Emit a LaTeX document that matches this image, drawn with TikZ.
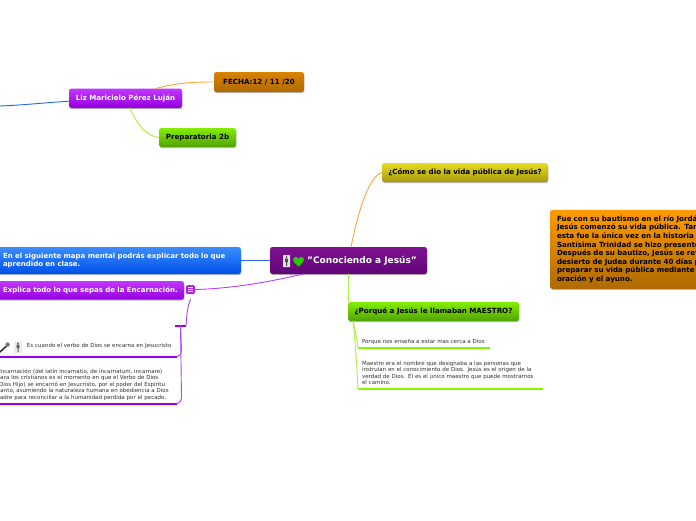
\documentclass[tikz,border=0pt]{standalone}
\usepackage{fontspec}
\setmainfont{DejaVu Sans}
\usetikzlibrary{shadows}
\definecolor{cPurpleT}{HTML}{C238FF}\definecolor{cPurpleB}{HTML}{9400DD}
\definecolor{cOrangeT}{HTML}{FF9A00}\definecolor{cOrangeB}{HTML}{AE6A00}
\definecolor{cGreenT}{HTML}{84EE00}\definecolor{cGreenB}{HTML}{50A200}
\definecolor{cYellowT}{HTML}{E6DC20}\definecolor{cYellowB}{HTML}{A89A10}
\definecolor{cBlueT}{HTML}{3C8CFF}\definecolor{cBlueB}{HTML}{0050E6}
\definecolor{cCentT}{HTML}{7E1190}\definecolor{cCentB}{HTML}{620578}
\definecolor{lBlue}{HTML}{2566EE}\definecolor{lOrange}{HTML}{FFA53A}
\definecolor{lGreen}{HTML}{A6F040}\definecolor{lPurple}{HTML}{B340FF}
\definecolor{uPurple}{HTML}{9A00E0}\definecolor{uGreen}{HTML}{88F500}
\definecolor{tDark}{HTML}{303030}
\tikzset{
  x=1pt,y=-1pt,
  topic/.style={anchor=north west,rounded corners=2.5pt,inner sep=0pt,outer sep=0pt,align=center,
    font=\fontsize{7.1}{8.6}\selectfont\bfseries,
    drop shadow={shadow xshift=0.4pt,shadow yshift=-1.1pt,opacity=0.28,fill=black}},
  darktext/.style={text=black},
  whitetext/.style={text=white},
  note/.style={anchor=north west,inner sep=0pt,outer sep=0pt,align=left,text=tDark,
    font=\fontsize{5.5}{6.5}\selectfont},
  conn/.style={line width=0.9pt,line cap=round},
  under/.style={line width=1.7pt},
}
\begin{document}
\begin{tikzpicture}
\useasboundingbox (0,0) rectangle (696,520);
\clip (0,0) rectangle (696,520);
\fill[white] (0,0) rectangle (696,520);

% free ends
\coordinate (offleft) at (0,106);

% top-level nodes
\node[topic,whitetext,top color=cPurpleT,bottom color=cPurpleB,minimum width=113pt,minimum height=19.5pt] (liz) at (69,88.5) {Liz Maricielo Pérez Luján};
\node[topic,darktext,top color=cOrangeT!85!black,bottom color=cOrangeB,minimum width=90pt,minimum height=20pt] (fecha) at (214,72) {FECHA:12 / 11 /20};
\node[topic,darktext,top color=cGreenT,bottom color=cGreenB,minimum width=77pt,minimum height=19pt] (prepa) at (159,128) {Preparatoria 2b};
\node[topic,whitetext,top color=cCentT,bottom color=cCentB,minimum width=157pt,minimum height=27pt,font=\fontsize{9}{11}\selectfont\bfseries] (cent) at (270,247) {\hspace{27pt}"Conociendo a Jesús"};
\node[topic,darktext,top color=cYellowT,bottom color=cYellowB,minimum width=166pt,minimum height=19pt] (como) at (382,163) {¿Cómo se dio la vida pública de Jesús?};
\node[topic,darktext,top color=cGreenT,bottom color=cGreenB,minimum width=171pt,minimum height=19pt] (porque) at (348,302) {¿Porqué a Jesús le llamaban MAESTRO?};
\node[topic,darktext,top color=cOrangeT,bottom color=cOrangeB,minimum width=170pt,minimum height=79pt,align=left,text width=156pt,inner xsep=7pt,yshift=-0.8pt] (fue) at (550,209) {Fue con su bautismo en el río Jordán,\\Jesús comenzó su vida pública. Tanto,\\esta fue la única vez en la historia en\\Santísima Trinidad se hizo presente.\\Después de su bautizo, Jesús se retiró\\desierto de Judea durante 40 días para\\preparar su vida pública mediante la\\oración y el ayuno.};
\node[topic,whitetext,top color=cBlueT,bottom color=cBlueB,minimum width=251pt,minimum height=27pt,align=left,text width=247pt,inner xsep=2pt,font=\fontsize{7}{8.8}\selectfont\bfseries] (blue) at (-10,247) {\hspace*{11pt}En el siguiente mapa mental podrás explicar todo lo que\\\hspace*{11pt}aprendido en clase.};
\node[topic,whitetext,top color=cPurpleT,bottom color=cPurpleB,minimum width=194pt,minimum height=18.5pt,align=left,text width=190pt,inner xsep=2pt,font=\fontsize{7}{8.8}\selectfont\bfseries] (expl) at (-10,281) {\hspace*{11pt}Explica todo lo que sepas de la Encarnación.};

% collapse button
\node[anchor=north west,rounded corners=1.5pt,fill=uPurple!85!white,minimum width=9pt,minimum height=9pt,inner sep=0pt,outer sep=0pt] (btn) at (186,285) {};
\draw[white,line width=0.6pt] (188,287.6) -- (193,287.6) (188,289.5) -- (193,289.5) (188,291.4) -- (193,291.4);

% small branching bar
\node[anchor=north west,fill=uPurple,minimum width=11pt,minimum height=2pt,inner sep=0pt,outer sep=0pt] (bar) at (175,324.5) {};

% notes
\node[note,text width=132pt,minimum height=13pt] (n1) at (358,335) {\hspace*{4pt}Porque nos enseña a estar mas cerca a Dios};
\node[note,text width=185pt,minimum height=32pt] (n2) at (358,357) {\hspace*{4pt}Maestro era el nombre que designaba a las personas que\\\hspace*{4pt}instruían en el conocimiento de Dios. Jesús es el origen de la\\\hspace*{4pt}verdad de Dios. Él es el único maestro que puede mostrarnos\\\hspace*{4pt}el camino.};
\node[note,text width=182pt,minimum height=22pt] (n3) at (-5,335) {\hspace*{32pt}\raisebox{-1pt}{Es cuando el verbo de Dios se encarna en Jesucristo}};
\node[note,text width=182pt,minimum height=39pt] (n4) at (-5,365) {\hspace*{2.5pt}Encarnación (del latín incarnatio, de incarnatum, incarnare)\\\hspace*{2pt}para los cristianos es el momento en que el Verbo de Dios\\\hspace*{2pt}(Dios Hijo) se encarnó en Jesucristo, por el poder del Espíritu\\\hspace*{2pt}Santo, asumiendo la naturaleza humana en obediencia a Dios\\\hspace*{2pt}Padre para reconciliar a la humanidad perdida por el pecado.};

% underlines
\draw[under,uGreen] (n1.south west) -- (n1.south east);
\draw[under,uGreen] (n2.south west) -- (n2.south east);
\draw[under,uPurple] (n3.south west) -- (n3.south east);
\draw[under,uPurple] (n4.south west) -- (n4.south east);

% connectors
\draw[conn,lBlue] ([yshift=-3pt]liz.west) .. controls +(-25,1.5) and +(25,-1) .. (offleft);
\draw[conn,lOrange] ([xshift=87pt]liz.north west) .. controls +(22,-6) and +(-20,0) .. (fecha.west);
\draw[conn,lGreen] ([xshift=61pt]liz.south west) .. controls +(7,17) and +(-12,-1) .. (prepa.west);
\draw[conn,lOrange] ([xshift=81pt]cent.north west) .. controls +(8,-40) and +(-12,3) .. (como.west);
\draw[conn,lBlue] (cent.west) -- (cent.west -| blue.east);
\draw[conn,lPurple] ([xshift=33pt]cent.south east) ++(-157,0) .. controls +(-30,7) and +(40,-1) .. (btn.east);
\draw[conn,lGreen] ([xshift=78.5pt]cent.south west) -- ([xshift=0.5pt]porque.north west);
\draw[conn,lPurple] ([yshift=-5.5pt]btn.south) .. controls +(-3,6) and +(1,-12) .. (bar.east);
\draw[conn,lPurple] (bar.center) -- ([xshift=4.5pt,yshift=7pt]n3.south east) .. controls +(0,4) and +(2,-1) .. (n3.south east);
\draw[conn,lPurple] (bar.center) -- ([xshift=4.5pt,yshift=7pt]n4.south east) .. controls +(0,4) and +(2,-1) .. (n4.south east);
\draw[conn,lGreen] ([xshift=5pt]porque.south west) .. controls +(2,8) and +(-1,-8) .. (n1.south west);
\draw[conn,lGreen] ([xshift=5pt]porque.south west) .. controls +(2,15) and +(-1,-20) .. (n2.south west);

% central icons
\fill[white!80!gray,rounded corners=0.5pt] (283,255) rectangle (290,267);
\fill[black!70] (286.5,257.2) circle (1pt);
\fill[black!70] (285.2,258.6) rectangle (287.8,262) (286,262) rectangle (287,266);
\fill[green!75!black!80!lime] (298.5,266.5) .. controls (294,262.5) and (293,261) .. (293,259.5) .. controls (293,256.5) and (297.5,256) .. (298.5,258.8) .. controls (299.5,256) and (304,256.5) .. (304,259.5) .. controls (304,261) and (303,262.5) .. (298.5,266.5) -- cycle;

% note icons
\fill[white!85!gray,rounded corners=0.5pt] (14,341) rectangle (22,353);
\fill[black!65] (18,343.3) circle (1pt);
\fill[black!65] (16.7,344.6) rectangle (19.3,348) (17.5,348) rectangle (18.5,352);
\draw[black!80,line width=1.6pt,line cap=round] (0,352) -- (6,346.5);
\fill[black!55] (7.6,344.6) circle (2.2pt);
\end{tikzpicture}
\end{document}
